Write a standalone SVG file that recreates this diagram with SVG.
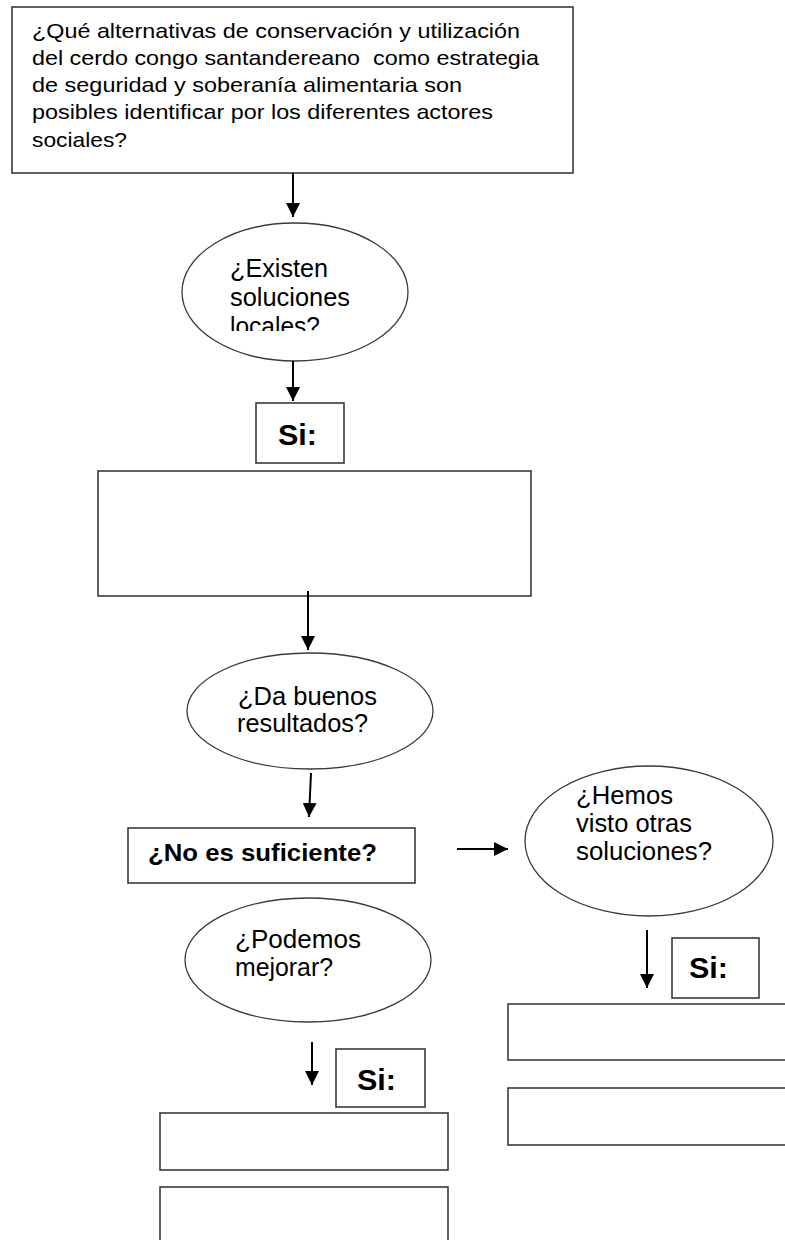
<svg xmlns="http://www.w3.org/2000/svg" width="785" height="1240" viewBox="0 0 785 1240">
<style>
.box{fill:#fff;stroke:#3a3a3a;stroke-width:1.6}
.ell{fill:#fff;stroke:#3a3a3a;stroke-width:1.3}
.t{font-family:"Liberation Sans",Arial,sans-serif;fill:#000}
.q{font-size:21px}
.e{font-size:25px}
.b{font-weight:bold}
.si{font-size:30px}
.con{stroke:#000;stroke-width:2;fill:none}
</style>
<defs>
<marker id="ah" markerUnits="userSpaceOnUse" markerWidth="14" markerHeight="14" refX="14" refY="7" orient="auto">
<path d="M0,0 L14,7 L0,14 z" fill="#000"/>
</marker>
<clipPath id="clip1"><rect x="180" y="225" width="230" height="106"/></clipPath>
</defs>
<rect width="785" height="1240" fill="#fff"/>

<g id="question">
<rect class="box" x="12" y="7" width="561" height="166"/>
<text class="t q" x="32" y="38" textLength="488" lengthAdjust="spacingAndGlyphs">¿Qué alternativas de conservación y utilización</text>
<text class="t q" x="32" y="65" textLength="507" lengthAdjust="spacingAndGlyphs" xml:space="preserve">del cerdo congo santandereano  como estrategia</text>
<text class="t q" x="32" y="92" textLength="430" lengthAdjust="spacingAndGlyphs">de seguridad y soberanía alimentaria son</text>
<text class="t q" x="32" y="119" textLength="461" lengthAdjust="spacingAndGlyphs">posibles identificar por los diferentes actores</text>
<text class="t q" x="32" y="147" textLength="95" lengthAdjust="spacingAndGlyphs">sociales?</text>
</g>

<g id="existen">
<ellipse class="ell" cx="295" cy="292" rx="113" ry="69"/>
<g clip-path="url(#clip1)">
<text class="t e" x="230" y="277" textLength="98" lengthAdjust="spacingAndGlyphs">¿Existen</text>
<text class="t e" x="230" y="306" textLength="120" lengthAdjust="spacingAndGlyphs">soluciones</text>
<text class="t e" x="230" y="335" textLength="90" lengthAdjust="spacingAndGlyphs">locales?</text>
</g>
</g>

<g id="si1">
<rect class="box" x="256" y="403" width="88" height="60"/>
<text class="t b si" x="278" y="445" textLength="39" lengthAdjust="spacingAndGlyphs">Si:</text>
</g>

<g id="box1">
<rect class="box" x="98" y="471" width="433" height="125"/>
</g>

<g id="buenos">
<ellipse class="ell" cx="310" cy="711" rx="123" ry="58"/>
<text class="t e" x="238" y="705" textLength="139" lengthAdjust="spacingAndGlyphs">¿Da buenos</text>
<text class="t e" x="237" y="732" textLength="131" lengthAdjust="spacingAndGlyphs">resultados?</text>
</g>

<g id="suficiente">
<rect class="box" x="128" y="828" width="287" height="55"/>
<text class="t b" x="148" y="861" font-size="23" textLength="229" lengthAdjust="spacingAndGlyphs">¿No es suficiente?</text>
</g>

<g id="hemos">
<ellipse class="ell" cx="649" cy="841" rx="124" ry="75"/>
<text class="t e" x="576" y="804" textLength="97" lengthAdjust="spacingAndGlyphs">¿Hemos</text>
<text class="t e" x="576" y="832" textLength="116" lengthAdjust="spacingAndGlyphs">visto otras</text>
<text class="t e" x="576" y="860" textLength="136" lengthAdjust="spacingAndGlyphs">soluciones?</text>
</g>

<g id="si3">
<rect class="box" x="672" y="938" width="87" height="60"/>
<text class="t b si" x="689" y="978" textLength="39" lengthAdjust="spacingAndGlyphs">Si:</text>
</g>

<g id="boxR1"><rect class="box" x="508" y="1004" width="300" height="56"/></g>
<g id="boxR2"><rect class="box" x="508" y="1088" width="300" height="57"/></g>

<g id="podemos">
<ellipse class="ell" cx="308" cy="960" rx="123" ry="62"/>
<text class="t e" x="235" y="948" textLength="126" lengthAdjust="spacingAndGlyphs">¿Podemos</text>
<text class="t e" x="235" y="976" textLength="98" lengthAdjust="spacingAndGlyphs">mejorar?</text>
</g>

<g id="si4">
<rect class="box" x="336" y="1049" width="89" height="58"/>
<text class="t b si" x="357" y="1090" textLength="39" lengthAdjust="spacingAndGlyphs">Si:</text>
</g>

<g id="boxL1"><rect class="box" x="160" y="1113" width="288" height="57"/></g>
<g id="boxL2"><rect class="box" x="160" y="1187" width="288" height="70"/></g>

<g id="connectors">
<line class="con" x1="293" y1="173" x2="293" y2="217" marker-end="url(#ah)"/>
<line class="con" x1="293" y1="361" x2="293" y2="401" marker-end="url(#ah)"/>
<line class="con" x1="308" y1="591" x2="308" y2="650" marker-end="url(#ah)"/>
<line class="con" x1="311" y1="773" x2="309" y2="817" marker-end="url(#ah)"/>
<line class="con" x1="457" y1="849" x2="508" y2="849" marker-end="url(#ah)"/>
<line class="con" x1="647" y1="930" x2="647" y2="988" marker-end="url(#ah)"/>
<line class="con" x1="312" y1="1042" x2="312" y2="1085" marker-end="url(#ah)"/>
</g>
</svg>
